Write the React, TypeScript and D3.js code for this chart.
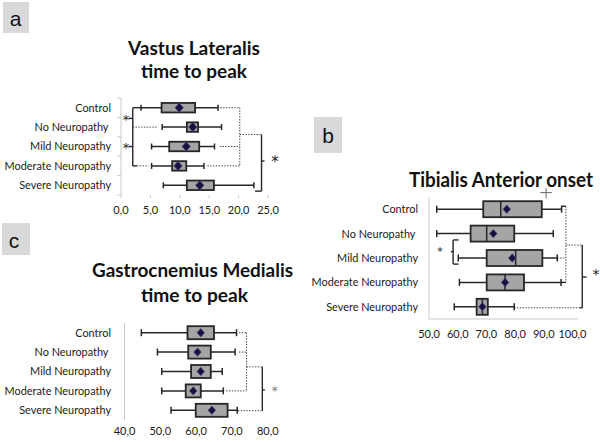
import React from "react";
import * as d3 from "d3";

const categories = ["Control", "No Neuropathy ", "Mild Neuropathy", "Moderate Neuropathy", "Severe Neuropathy"];

// Panel a: Vastus Lateralis time to peak
const vlMin = [3.4, 7.0, 5.2, 5.2, 7.2];
const vlQ1 = [6.9, 11.2, 8.2, 8.7, 11.2];
const vlMedian = [9.9, 12.2, 11.1, 9.7, 13.4];
const vlMean = [9.9, 12.2, 11.1, 9.7, 13.4];
const vlQ3 = [12.6, 13.1, 13.3, 11.1, 15.8];
const vlMax = [16.5, 17.1, 15.9, 14.1, 22.6];
const vlTicks = [0, 5, 10, 15, 20, 25];

// Panel b: Tibialis Anterior onset
const taMin = [52.7, 52.7, 60.2, 60.6, 58.8];
const taQ1 = [68.9, 64.5, 70.1, 70.1, 66.6];
const taMedian = [75.0, 70.1, 80.2, 76.5, 68.6];
const taMean = [77.1, 72.4, 79.0, 76.5, 68.6];
const taQ3 = [89.3, 79.7, 89.5, 83.1, 70.5];
const taMax = [96.2, 93.3, 94.7, 96.0, 79.7];
const taTicks = [50, 60, 70, 80, 90, 100];

// Panel c: Gastrocnemius Medialis time to peak
const gmMin = [44.7, 49.2, 50.4, 50.4, 53.0];
const gmQ1 = [57.6, 57.8, 58.6, 57.1, 59.9];
const gmMedian = [61.3, 60.4, 61.3, 59.2, 64.4];
const gmMean = [61.3, 60.4, 61.3, 59.2, 64.4];
const gmQ3 = [65.0, 64.1, 64.1, 61.3, 68.8];
const gmMax = [71.3, 70.9, 67.3, 67.6, 71.5];
const gmTicks = [40, 50, 60, 70, 80];

// significance annotations: [x1, row1, x2, row2, kind] kind: 0 solid, 1 dotted, 2 thin
type Seg = [number, number, number, number, number];
const vlSig: Seg[] = [
  [2.0, 0, 3.4, 0, 0],
  [2.0, 0, 2.0, 3, 0],
  [2.0, 1, 6.1, 1, 1],
  [2.0, 3, 2.7, 3, 0],
  [2.7, 3, 4.7, 3, 1],
  [1.3, 0.55, 2.0, 0.55, 0],
  [1.3, 2, 2.0, 2, 0],
  [16.9, 0, 20.2, 0, 1],
  [20.2, 0, 20.2, 3, 1],
  [16.8, 2, 20.2, 2, 1],
  [14.7, 3, 20.2, 3, 1],
  [20.2, 1.38, 23.9, 1.38, 1],
  [23.9, 1.38, 23.9, 4.3, 0],
  [22.8, 4.3, 23.9, 4.3, 0],
  [23.9, 2.75, 24.4, 2.75, 0],
];
const vlStars: [number, number, number][] = [
  [0.85, 0.55, 13],
  [0.85, 2, 13],
  [26.2, 2.75, 15],
];

const taSig: Seg[] = [
  [96.2, -0.12, 97.7, -0.12, 0],
  [97.7, -0.12, 97.7, 3, 1],
  [94.7, 2, 97.7, 2, 1],
  [96.0, 3, 97.7, 3, 0],
  [97.7, 1.47, 103.4, 1.47, 1],
  [103.4, 1.47, 103.4, 4.04, 0],
  [79.7, 4.04, 102.5, 4.04, 1],
  [102.5, 4.04, 103.4, 4.04, 0],
  [103.4, 2.78, 104.9, 2.78, 0],
  [60.3, 1.26, 58.4, 1.26, 0],
  [58.4, 1.26, 58.4, 2.25, 0],
  [58.4, 2.25, 60.3, 2.25, 0],
  [58.4, 1.74, 57.6, 1.74, 0],
  [90.8, -0.86, 90.8, -0.44, 2],
  [88.8, -0.68, 92.8, -0.68, 2],
];
const taStars: [number, number, number][] = [
  [53.8, 1.7, 11],
  [108.2, 2.6, 14],
];

const gmSig: Seg[] = [
  [72.0, 0, 74.1, 0, 1],
  [72.0, 1, 74.1, 1, 1],
  [74.1, 0, 74.1, 3, 1],
  [68.4, 3, 74.1, 3, 1],
  [74.1, 1.76, 78.5, 1.76, 1],
  [78.5, 1.76, 78.5, 4.02, 0],
  [71.7, 4.02, 78.5, 4.02, 1],
  [78.5, 2.95, 79.2, 2.95, 0],
];
const gmStars: [number, number, number][] = [[82.0, 2.95, 12]];

const FONT = "Lato, 'Open Sans', sans-serif";
const fmt = (v: number) => d3.format(".1f")(v).replace(".", ",");

type PanelProps = {
  xDomain: [number, number];
  xRange: [number, number];
  yRange: [number, number];
  mins: number[];
  q1s: number[];
  meds: number[];
  means: number[];
  q3s: number[];
  maxs: number[];
  ticks: number[];
  boxH: number;
  capH: number;
  dW: number;
  labelRight: number;
  labelSize: number;
  tickY: number;
  sig: Seg[];
  stars: [number, number, number][];
  starColor: string;
  leftTicks?: boolean;
  bottomTicks?: boolean;
  bottomLineEnd?: number;
  showMedian: boolean;
};

function BoxPanel(p: PanelProps) {
  const x = d3.scaleLinear().domain(p.xDomain).range(p.xRange);
  const y = d3.scaleBand<string>().domain(categories).range(p.yRange).padding(0);
  const step = y.step();
  const rowY = (r: number) => p.yRange[0] + step * (r + 0.5);
  const axisColor = "#c8c8c8";
  const ink = "#262626";
  return (
    <g>
      <line x1={p.xRange[0]} x2={p.xRange[0]} y1={p.yRange[0]} y2={p.yRange[1]} stroke={axisColor} strokeWidth={1} />
      {p.leftTicks &&
        d3.range(categories.length + 1).map((i) => (
          <line key={"lt" + i} x1={p.xRange[0] - 4} x2={p.xRange[0]} y1={p.yRange[0] + i * step} y2={p.yRange[0] + i * step} stroke={axisColor} />
        ))}
      {p.bottomTicks &&
        p.ticks.map((t) => (
          <line key={"bt" + t} x1={x(t)} x2={x(t)} y1={p.yRange[1]} y2={p.yRange[1] + 3} stroke={axisColor} />
        ))}
      {p.bottomLineEnd !== undefined && (
        <line x1={p.xRange[0]} x2={p.bottomLineEnd} y1={p.yRange[1]} y2={p.yRange[1]} stroke={axisColor} />
      )}
      {p.ticks.map((t) => (
        <text key={"tl" + t} x={x(t)} y={p.tickY + 4} textAnchor="middle" fontSize={11} fontFamily={FONT} fill="#1a1a1a">
          {fmt(t)}
        </text>
      ))}
      {categories.map((c, i) => (
        <text key={"cl" + i} x={p.labelRight} y={y(c)! + step / 2 + p.labelSize * 0.36} textAnchor="end" fontSize={p.labelSize} fontFamily={FONT} fill="#1a1a1a" style={{ whiteSpace: "pre" }}>
          {c}
        </text>
      ))}
      {p.sig.map((s, i) => (
        <line
          key={"sg" + i}
          x1={x(s[0])}
          x2={x(s[2])}
          y1={rowY(s[1])}
          y2={rowY(s[3])}
          stroke={s[4] === 1 ? "#444" : s[4] === 2 ? "#666" : ink}
          strokeWidth={s[4] === 0 ? 1.4 : 1}
          strokeDasharray={s[4] === 1 ? "1.4,1.4" : undefined}
        />
      ))}
      {p.stars.map((s, i) => (
        <text key={"st" + i} x={x(s[0])} y={rowY(s[1]) + s[2] * 0.42} textAnchor="middle" fontSize={s[2]} fontFamily="'DejaVu Sans', sans-serif" fill={p.starColor}>
          *
        </text>
      ))}
      {categories.map((c, i) => {
        const cy = y(c)! + step / 2;
        const d = p.dW;
        const mx = x(p.means[i]);
        return (
          <g key={"bx" + i}>
            <line x1={x(p.mins[i])} x2={x(p.maxs[i])} y1={cy} y2={cy} stroke={ink} strokeWidth={1.5} />
            <line x1={x(p.mins[i])} x2={x(p.mins[i])} y1={cy - p.capH / 2} y2={cy + p.capH / 2} stroke={ink} strokeWidth={1.5} />
            <line x1={x(p.maxs[i])} x2={x(p.maxs[i])} y1={cy - p.capH / 2} y2={cy + p.capH / 2} stroke={ink} strokeWidth={1.5} />
            <rect x={x(p.q1s[i])} y={cy - p.boxH / 2} width={x(p.q3s[i]) - x(p.q1s[i])} height={p.boxH} fill="#a5a5a5" stroke={ink} strokeWidth={1.8} />
            {p.showMedian && (
              <line x1={x(p.meds[i])} x2={x(p.meds[i])} y1={cy - p.boxH / 2} y2={cy + p.boxH / 2} stroke={ink} strokeWidth={1.5} />
            )}
            <path d={`M${mx},${cy - d * 1.1}L${mx + d},${cy}L${mx},${cy + d * 1.1}L${mx - d},${cy}Z`} fill="#17123f" stroke="#4a4080" strokeWidth={0.6} />
          </g>
        );
      })}
    </g>
  );
}

function PanelLetter({ x, y, w, h, letter, bx, by }: { x: number; y: number; w: number; h: number; letter: string; bx: number; by: number }) {
  return (
    <g>
      <rect x={x} y={y} width={w} height={h} fill="#d9d9d9" />
      <text x={bx} y={by} textAnchor="middle" fontSize={21} fontFamily="'Liberation Sans', Arial, sans-serif" fill="#111">
        {letter}
      </text>
    </g>
  );
}

function Title({ x, y, text, size, len }: { x: number; y: number; text: string; size: number; len: number }) {
  return (
    <text x={x} y={y} textAnchor="middle" fontSize={size} fontWeight={700} fontFamily={FONT} fill="#111" textLength={len} lengthAdjust="spacingAndGlyphs">
      {text}
    </text>
  );
}

export default function App() {
  return (
    <svg width={600} height={442} style={{ position: "absolute", left: 0, top: 0, background: "#fff" }}>
      <rect width={600} height={442} fill="#fff" />
      <PanelLetter x={3} y={2} w={26} h={31} letter="a" bx={15.5} by={26} />
      <PanelLetter x={314} y={117} w={28} h={36} letter="b" bx={328} by={143} />
      <PanelLetter x={2} y={223} w={28} h={32} letter="c" bx={14} by={248} />

      <Title x={194} y={55} text="Vastus Lateralis" size={19} len={132} />
      <Title x={194} y={77.7} text="time to peak" size={19} len={106} />
      <Title x={501} y={187} text="Tibialis Anterior onset" size={20.5} len={184} />
      <Title x={192.5} y={277.3} text="Gastrocnemius Medialis" size={19} len={201} />
      <Title x={194.5} y={301.7} text="time to peak" size={19} len={107} />

      <BoxPanel
        xDomain={[0, 25]} xRange={[121, 268]} yRange={[98, 195]}
        mins={vlMin} q1s={vlQ1} meds={vlMedian} means={vlMean} q3s={vlQ3} maxs={vlMax}
        ticks={vlTicks} boxH={9.5} capH={6} dW={4.2} labelRight={111} labelSize={10.9} tickY={210}
        sig={vlSig} stars={vlStars} starColor="#222" leftTicks bottomTicks showMedian={false}
      />
      <BoxPanel
        xDomain={[50, 100]} xRange={[429, 572.5]} yRange={[197, 319]}
        mins={taMin} q1s={taQ1} meds={taMedian} means={taMean} q3s={taQ3} maxs={taMax}
        ticks={taTicks} boxH={16} capH={7} dW={3.8} labelRight={418} labelSize={10.9} tickY={334}
        sig={taSig} stars={taStars} starColor="#222" bottomLineEnd={578} showMedian
      />
      <BoxPanel
        xDomain={[40, 80]} xRange={[124.5, 267.7]} yRange={[323, 420]}
        mins={gmMin} q1s={gmQ1} meds={gmMedian} means={gmMean} q3s={gmQ3} maxs={gmMax}
        ticks={gmTicks} boxH={13} capH={7} dW={3.8} labelRight={111} labelSize={10.9} tickY={431}
        sig={gmSig} stars={gmStars} starColor="#777" showMedian={false}
      />
    </svg>
  );
}
